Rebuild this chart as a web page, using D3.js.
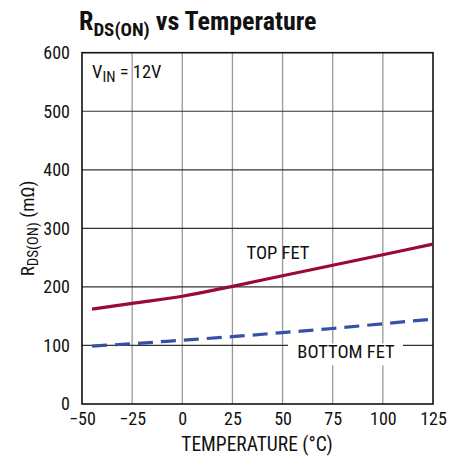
<!DOCTYPE html>
<html><head><meta charset="utf-8">
<script src="https://cdn.jsdelivr.net/npm/d3@7"></script>
<style>
body{margin:0;background:#fff;}
text{font-family:"Liberation Sans Narrow","Roboto Condensed","Arial Narrow","Liberation Sans",sans-serif;fill:#111;}
</style></head>
<body><svg id="c" width="463" height="460"></svg>
<script>
const temps = [-45, -25, 0, 25, 50, 75, 100, 125];
const topFet = [162, 172, 184, 201, 219, 237, 255, 273];
const bottomFet = [99, 103, 109, 115, 122, 129, 137, 145];
const xTicks = [-50, -25, 0, 25, 50, 75, 100, 125];
const yTicks = [0, 100, 200, 300, 400, 500, 600];

const svg = d3.select("#c");
const x = d3.scaleLinear().domain([-50,125]).range([82,433]);
const y = d3.scaleLinear().domain([0,600]).range([404,52.7]);

// grid
svg.append("g").selectAll("line").data(xTicks.slice(1,-1)).join("line")
  .attr("x1",d=>x(d)).attr("x2",d=>x(d)).attr("y1",y(600)).attr("y2",y(0))
  .attr("stroke","#999").attr("stroke-width",1.3);
svg.append("g").selectAll("line").data(yTicks.slice(1,-1)).join("line")
  .attr("x1",x(-50)).attr("x2",x(125)).attr("y1",d=>y(d)).attr("y2",d=>y(d))
  .attr("stroke","#333").attr("stroke-width",1.2);

const xa = svg.append("g").attr("transform",`translate(0,${y(0)})`)
  .call(d3.axisBottom(x).tickValues(xTicks).tickSize(0).tickPadding(8).tickFormat(d=>d<0?"\u2212"+(-d):d));
const ya = svg.append("g").attr("transform",`translate(${x(-50)},0)`)
  .call(d3.axisLeft(y).tickValues(yTicks).tickSize(0).tickPadding(12));
[xa,ya].forEach(g=>{g.select(".domain").remove();g.selectAll("text").attr("font-size",18).attr("fill","#111")
  .style("font-family",'"Liberation Sans Narrow","Roboto Condensed","Arial Narrow",sans-serif');});

// frame
svg.append("rect").attr("x",x(-50)).attr("y",y(600)).attr("width",x(125)-x(-50)).attr("height",y(0)-y(600))
  .attr("fill","none").attr("stroke","#111").attr("stroke-width",1.6);

const line = d3.line().x((d,i)=>x(temps[i])).y(d=>y(d)).curve(d3.curveMonotoneX);

svg.append("rect").attr("x",288).attr("y",y(100)-2).attr("width",115).attr("height",22).attr("fill","#fff");
svg.append("text").attr("x",346).attr("y",358).attr("text-anchor","middle").attr("font-size",18.5).text("BOTTOM FET");

svg.append("path").datum(topFet).attr("d",line).attr("fill","none").attr("stroke","#9a0a36").attr("stroke-width",3.2);
svg.append("path").datum(bottomFet).attr("d",line).attr("fill","none").attr("stroke","#3650a6").attr("stroke-width",3.2)
  .attr("stroke-dasharray","15,8");

svg.append("text").attr("x",278).attr("y",259).attr("text-anchor","middle").attr("font-size",18.5).text("TOP FET");

const v = svg.append("text").attr("x",92).attr("y",78).attr("font-size",18.5);
v.append("tspan").text("V");
v.append("tspan").attr("dy",4).attr("font-size",15).text("IN");
v.append("tspan").attr("dy",-4).text(" = 12V");

const t = svg.append("text").attr("x",79).attr("y",30).attr("font-size",26).attr("font-weight","bold");
t.append("tspan").text("R");
t.append("tspan").attr("dy",6).attr("font-size",19).text("DS(ON)");
t.append("tspan").attr("dy",-6).text(" vs Temperature");

svg.append("text").attr("x",257).attr("y",451).attr("text-anchor","middle").attr("font-size",19.5).text("TEMPERATURE (°C)");
const yl = svg.append("text").attr("transform",`translate(34,${(y(0)+y(600))/2}) rotate(-90)`).attr("text-anchor","middle").attr("font-size",19);
yl.append("tspan").text("R");
yl.append("tspan").attr("dy",4).attr("font-size",15).text("DS(ON)");
yl.append("tspan").attr("dy",-4).text(" (mΩ)");
</script></body></html>
